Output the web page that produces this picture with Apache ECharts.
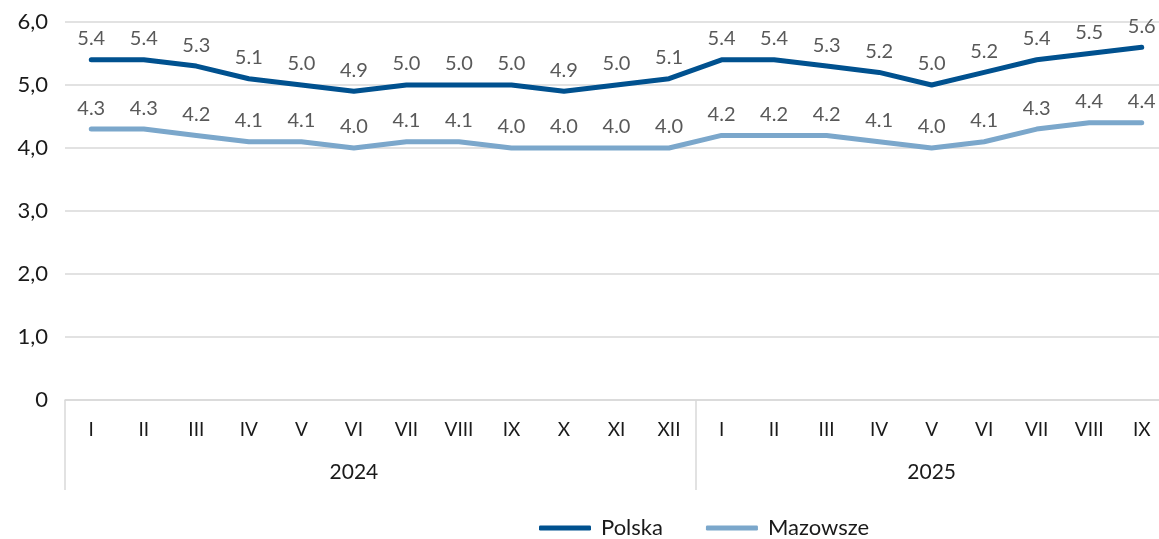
<!DOCTYPE html>
<html>
<head>
<meta charset="utf-8">
<script src="https://cdn.jsdelivr.net/npm/echarts@6/dist/echarts.min.js"></script>
<style>
html,body{margin:0;padding:0;background:#fff;overflow:hidden;}
#c{width:1172px;height:539px;}
</style>
</head>
<body>
<div id="c"></div>
<script>
const months = ['I','II','III','IV','V','VI','VII','VIII','IX','X','XI','XII','I','II','III','IV','V','VI','VII','VIII','IX'];
const years = ['2024','2025'];
const yearCounts = [12, 9];
const polska = [5.4,5.4,5.3,5.1,5.0,4.9,5.0,5.0,5.0,4.9,5.0,5.1,5.4,5.4,5.3,5.2,5.0,5.2,5.4,5.5,5.6];
const mazowsze = [4.3,4.3,4.2,4.1,4.1,4.0,4.1,4.1,4.0,4.0,4.0,4.0,4.2,4.2,4.2,4.1,4.0,4.1,4.3,4.4,4.4];
const yTicks = [0,1,2,3,4,5,6];

// build year-level category info
const yearCat = [];
const yearLabelIdx = {};
const groupStart = {};
let pos = 0;
years.forEach((y, i) => {
  groupStart[pos] = true;
  yearLabelIdx[pos + Math.floor((yearCounts[i] - 1) / 2)] = y;
  for (let k = 0; k < yearCounts[i]; k++) yearCat.push(y);
  pos += yearCounts[i];
});

const FONT = 'Lato';
const labelCfg = {
  show: true, position: 'top', distance: 11, fontSize: 20, color: '#595959', fontFamily: FONT,
  formatter: function (p) { return p.value.toFixed(1); }
};
const chart = echarts.init(document.getElementById('c'));
chart.setOption({
  animation: false,
  textStyle: { fontFamily: FONT },
  grid: { left: 65, top: 22, width: 1103, bottom: 139, containLabel: false },
  legend: {
    left: 539, top: 517, padding: 0,
    icon: 'roundRect', itemWidth: 52, itemHeight: 5, itemGap: 43,
    textStyle: { fontFamily: FONT, fontSize: 22, color: '#1a1a1a', padding: [0, 0, 0, 5] },
    data: ['Polska', 'Mazowsze']
  },
  xAxis: [
    {
      type: 'category', data: months, position: 'bottom',
      axisLine: { show: true, lineStyle: { color: '#d9d9d9', width: 1.5 } },
      axisTick: { show: true, length: 90, lineStyle: { color: '#d9d9d9', width: 1.5 },
        interval: function (idx) { return !!groupStart[idx]; } },
      axisLabel: { interval: 0, margin: 20, fontSize: 19, color: '#1a1a1a', fontFamily: FONT }
    },
    {
      type: 'category', data: yearCat, position: 'bottom', offset: 0,
      axisLine: { show: false }, axisTick: { show: false },
      axisLabel: {
        interval: function (idx) { return yearLabelIdx[idx] !== undefined; },
        formatter: function (v, idx) { return yearLabelIdx[idx] || ''; },
        margin: 62, fontSize: 21, color: '#1a1a1a', fontFamily: FONT
      }
    }
  ],
  yAxis: {
    type: 'value', min: yTicks[0], max: yTicks[yTicks.length - 1], interval: 1,
    axisLine: { show: false }, axisTick: { show: false },
    splitLine: { lineStyle: { color: '#d9d9d9', width: 1.5 } },
    axisLabel: {
      margin: 17, fontSize: 22, color: '#1a1a1a', fontFamily: FONT,
      formatter: function (v) { return v === 0 ? '0' : v.toFixed(1).replace('.', ','); }
    }
  },
  series: [
    {
      name: 'Polska', type: 'line', data: polska, symbol: 'circle', symbolSize: 0, showSymbol: true,
      lineStyle: { color: '#00518f', width: 5, cap: 'round', join: 'round' },
      itemStyle: { color: '#00518f' },
      label: labelCfg
    },
    {
      name: 'Mazowsze', type: 'line', data: mazowsze, symbol: 'circle', symbolSize: 0, showSymbol: true,
      lineStyle: { color: '#7ba7cb', width: 5, cap: 'round', join: 'round' },
      itemStyle: { color: '#7ba7cb' },
      label: labelCfg
    }
  ]
});
</script>
</body>
</html>
